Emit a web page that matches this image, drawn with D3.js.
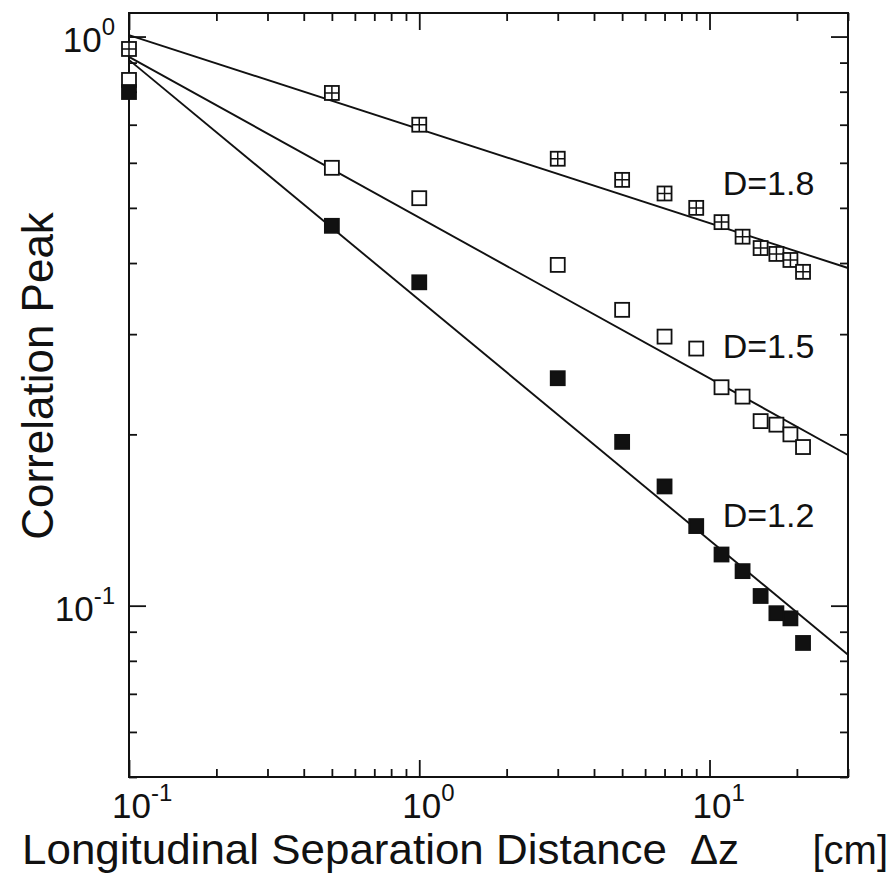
<!DOCTYPE html>
<html>
<head>
<meta charset="utf-8">
<script src="https://cdn.jsdelivr.net/npm/d3@7/dist/d3.min.js"></script>
<style>
  html, body { margin: 0; padding: 0; background: #fff; }
  svg { display: block; font-family: "Liberation Sans", Arial, Helvetica, sans-serif; }
</style>
</head>
<body>
<svg id="chart" width="892" height="874"></svg>
<script>
// data (x in cm, correlation peak on log axis)
const distances = [0.1, 0.5, 1, 3, 5, 7, 9, 11, 13, 15, 17, 19, 21];
const peakD18 = [0.951, 0.796, 0.700, 0.610, 0.560, 0.530, 0.500, 0.472, 0.445, 0.425, 0.415, 0.405, 0.386];
const peakD15 = [0.839, 0.588, 0.520, 0.397, 0.331, 0.297, 0.283, 0.242, 0.233, 0.211, 0.208, 0.200, 0.190];
const peakD12 = [0.799, 0.465, 0.370, 0.251, 0.194, 0.162, 0.138, 0.123, 0.115, 0.104, 0.097, 0.095, 0.086];

// fitted power-law lines, given at both ends of the x range
const fitX = [0.1, 30];
const fitD18 = [1.006, 0.392];
const fitD15 = [0.921, 0.184];
const fitD12 = [0.910, 0.082];

const seriesNames = ['D=1.8', 'D=1.5', 'D=1.2'];
const seriesSymbols = ['crossed', 'open', 'filled'];

const xMajor = [0.1, 1, 10];
const xMajorLabels = ['-1', '0', '1'];
const yMajor = [0.1, 1];
const yMajorLabels = ['-1', '0'];

const xTitle = 'Longitudinal Separation Distance';
const xSymbol = 'Δz';
const xUnit = '[cm]';
const yTitle = 'Correlation Peak';

// layout
const margin = { top: 13, right: 44, bottom: 97, left: 129 };
const width = 892, height = 874;

const svg = d3.select('#chart');
svg.append('rect').attr('width', width).attr('height', height).attr('fill', '#fff');

const x = d3.scaleLog().domain([0.1, 30]).range([margin.left, width - margin.right]);
const y = d3.scaleLog().domain([0.05, 1.1]).range([height - margin.bottom, margin.top]);

const ink = '#111';
const majorLen = 17, minorLen = 8;

const xMinor = x.ticks().filter(t => !xMajor.some(m => Math.abs(m - t) < 1e-9));
const yMinor = y.ticks().filter(t => !yMajor.some(m => Math.abs(m - t) < 1e-9));

function styleAxis(g) {
    g.select('.domain').remove();
    g.selectAll('.tick line').attr('stroke', ink).attr('stroke-width', 1.8);
    g.selectAll('.tick text').remove();
}

const axes = svg.append('g').attr('class', 'axes');
const plotBottom = height - margin.bottom, plotRight = width - margin.right;

// inward ticks on all four sides
[[xMajor, majorLen], [xMinor, minorLen]].forEach(([vals, len]) => {
    axes.append('g').attr('transform', `translate(0,${plotBottom})`)
        .call(d3.axisBottom(x).tickValues(vals).tickSizeInner(-len).tickSizeOuter(0)).call(styleAxis);
    axes.append('g').attr('transform', `translate(0,${margin.top})`)
        .call(d3.axisTop(x).tickValues(vals).tickSizeInner(-len).tickSizeOuter(0)).call(styleAxis);
});
[[yMajor, majorLen], [yMinor, minorLen]].forEach(([vals, len]) => {
    axes.append('g').attr('transform', `translate(${margin.left},0)`)
        .call(d3.axisLeft(y).tickValues(vals).tickSizeInner(-len).tickSizeOuter(0)).call(styleAxis);
    axes.append('g').attr('transform', `translate(${plotRight},0)`)
        .call(d3.axisRight(y).tickValues(vals).tickSizeInner(-len).tickSizeOuter(0)).call(styleAxis);
});

// frame
svg.append('rect')
    .attr('x', margin.left).attr('y', margin.top)
    .attr('width', plotRight - margin.left).attr('height', plotBottom - margin.top)
    .attr('fill', 'none').attr('stroke', ink).attr('stroke-width', 2);

// tick labels as 10 with a superscript exponent
const xLab = svg.append('g').selectAll('text')
    .data(xMajor)
    .join('text')
        .attr('x', d => x(d) - 17)
        .attr('y', plotBottom + 41)
        .attr('fill', ink)
        .attr('font-size', 35);
xLab.append('tspan').text('10');
xLab.append('tspan').attr('font-size', 24).attr('dy', -17).text((d, i) => xMajorLabels[i]);

const yLab = svg.append('g').selectAll('text')
    .data(yMajor)
    .join('text')
        .attr('x', margin.left - 14)
        .attr('y', d => y(d) + 15)
        .attr('text-anchor', 'end')
        .attr('fill', ink)
        .attr('font-size', 35);
yLab.append('tspan').text('10');
yLab.append('tspan').attr('font-size', 24).attr('dy', -17).text((d, i) => yMajorLabels[i]);

// fitted lines
const fits = [fitD18, fitD15, fitD12];
const line = d3.line().x(d => x(d[0])).y(d => y(d[1]));
svg.append('g').selectAll('path')
    .data(fits)
    .join('path')
        .attr('d', f => line(fitX.map((v, i) => [v, f[i]])))
        .attr('fill', 'none')
        .attr('stroke', ink)
        .attr('stroke-width', 1.9);

// markers
const series = [peakD18, peakD15, peakD12];
const ms = 14;
series.forEach((vals, si) => {
    const g = svg.append('g').attr('class', `series-${si}`);
    const pts = g.selectAll('g')
        .data(distances.map((d, i) => [d, vals[i]]))
        .join('g')
            .attr('transform', d => `translate(${x(d[0])},${y(d[1])})`);
    const sym = seriesSymbols[si];
    pts.append('rect')
        .attr('x', -ms / 2).attr('y', -ms / 2)
        .attr('width', ms).attr('height', ms)
        .attr('fill', sym === 'filled' ? ink : '#fff')
        .attr('stroke', ink)
        .attr('stroke-width', 1.8);
    if (sym === 'crossed') {
        pts.append('path')
            .attr('d', `M0,${-ms / 2}V${ms / 2}M${-ms / 2},0H${ms / 2}`)
            .attr('stroke', ink)
            .attr('stroke-width', 1.5);
    }
});

// series labels, placed in data units
const labelX = 11.1;
const labelY = [0.527, 0.272, 0.1376];
svg.append('g').selectAll('text')
    .data(seriesNames)
    .join('text')
        .attr('x', x(labelX))
        .attr('y', (d, i) => y(labelY[i]))
        .attr('fill', ink)
        .attr('font-size', 34)
        .text(d => d);

// axis titles (the scanned lettering is a little wider than the font)
svg.append('text')
    .attr('x', 22).attr('y', 864)
    .attr('font-size', 42).attr('fill', ink)
    .attr('textLength', 645).attr('lengthAdjust', 'spacingAndGlyphs')
    .text(xTitle);
svg.append('text')
    .attr('x', 690).attr('y', 864)
    .attr('font-size', 42).attr('fill', ink)
    .text(xSymbol);
svg.append('text')
    .attr('x', 888).attr('y', 864)
    .attr('text-anchor', 'end')
    .attr('font-size', 40).attr('fill', ink)
    .text(xUnit);

svg.append('text')
    .attr('transform', `translate(53,${(margin.top + plotBottom) / 2 - 19}) rotate(-90)`)
    .attr('text-anchor', 'middle')
    .attr('font-size', 44).attr('fill', ink)
    .text(yTitle);
</script>
</body>
</html>
